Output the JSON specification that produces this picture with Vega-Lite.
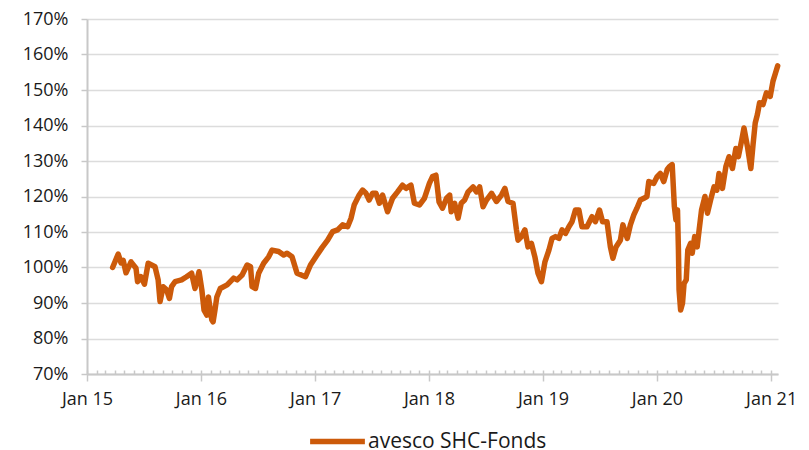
{
  "$schema": "https://vega.github.io/schema/vega-lite/v6.json",
  "width": 691,
  "height": 355,
  "autosize": {"type": "none"},
  "padding": {"left": 87, "top": 19, "right": 31, "bottom": 76},
  "background": "white",
  "config": {
    "view": {"stroke": null},
    "font": "Open Sans",
    "axis": {"labelFont": "Open Sans", "labelColor": "#1a1a1a", "domainColor": "#c8c8c8", "tickColor": "#c8c8c8", "gridColor": "#dcdcdc"},
    "axisY": {"title": null, "values": [70, 80, 90, 100, 110, 120, 130, 140, 150, 160, 170],
      "labelExpr": "datum.value + '%'", "labelFontSize": 18, "labelPadding": 13,
      "tickSize": 6, "tickWidth": 1.5, "domainWidth": 2, "gridWidth": 1.5, "grid": true}
  },
  "data": {"values": [
    {"d":"2015-03-24","v":100},{"d":"2015-04-11","v":103.8},{"d":"2015-04-20","v":101.3},{"d":"2015-04-27","v":102},
    {"d":"2015-05-06","v":98.5},{"d":"2015-05-22","v":101.6},{"d":"2015-06-07","v":99.8},{"d":"2015-06-12","v":96},
    {"d":"2015-06-23","v":97.4},{"d":"2015-07-04","v":95.3},{"d":"2015-07-16","v":101.2},{"d":"2015-07-27","v":100.7},
    {"d":"2015-08-07","v":100.2},{"d":"2015-08-17","v":96.5},{"d":"2015-08-23","v":90.4},{"d":"2015-09-02","v":94.6},
    {"d":"2015-09-13","v":93.7},{"d":"2015-09-22","v":91.3},{"d":"2015-09-29","v":94.6},{"d":"2015-10-10","v":96},
    {"d":"2015-10-31","v":96.5},{"d":"2015-11-16","v":97.4},{"d":"2015-12-02","v":98.4},{"d":"2015-12-13","v":94.1},
    {"d":"2015-12-26","v":98.8},
    {"d":"2016-01-04","v":93.7},{"d":"2016-01-11","v":88},{"d":"2016-01-20","v":86.6},{"d":"2016-01-25","v":91.7},
    {"d":"2016-02-05","v":85.2},{"d":"2016-02-09","v":84.7},{"d":"2016-02-15","v":88},{"d":"2016-02-21","v":91.7},
    {"d":"2016-03-03","v":94.1},{"d":"2016-03-25","v":95.1},{"d":"2016-04-15","v":97},{"d":"2016-04-26","v":96.5},
    {"d":"2016-05-12","v":97.9},{"d":"2016-05-28","v":100.7},{"d":"2016-06-08","v":100.2},{"d":"2016-06-13","v":94.6},
    {"d":"2016-06-24","v":94.1},{"d":"2016-07-04","v":98.4},{"d":"2016-07-20","v":101.2},{"d":"2016-08-05","v":103},
    {"d":"2016-08-16","v":104.9},{"d":"2016-09-06","v":104.5},{"d":"2016-09-22","v":103.5},{"d":"2016-10-03","v":104},
    {"d":"2016-10-19","v":103},{"d":"2016-11-04","v":98.4},{"d":"2016-12-01","v":97.4},{"d":"2016-12-17","v":100.7},
    {"d":"2017-01-07","v":103.5},{"d":"2017-01-23","v":105.6},{"d":"2017-02-10","v":107.7},{"d":"2017-02-26","v":110.1},
    {"d":"2017-03-14","v":110.6},{"d":"2017-03-30","v":112},{"d":"2017-04-15","v":111.5},{"d":"2017-04-26","v":113.9},
    {"d":"2017-05-06","v":117.6},{"d":"2017-05-22","v":120.4},{"d":"2017-06-02","v":121.8},{"d":"2017-06-13","v":120.9},
    {"d":"2017-06-23","v":119},{"d":"2017-07-04","v":120.9},{"d":"2017-07-15","v":120.9},{"d":"2017-07-26","v":118.1},
    {"d":"2017-08-05","v":120.4},{"d":"2017-08-21","v":115.7},{"d":"2017-09-06","v":119.5},{"d":"2017-09-22","v":121.3},
    {"d":"2017-10-08","v":123.2},{"d":"2017-10-19","v":122.3},{"d":"2017-11-04","v":123.2},{"d":"2017-11-15","v":118.1},
    {"d":"2017-12-01","v":117.6},{"d":"2017-12-17","v":119.5},
    {"d":"2018-01-02","v":123.7},{"d":"2018-01-12","v":125.6},{"d":"2018-01-23","v":126},{"d":"2018-02-02","v":118.5},
    {"d":"2018-02-13","v":116.7},{"d":"2018-02-26","v":119.5},{"d":"2018-03-08","v":120.4},{"d":"2018-03-13","v":115.7},
    {"d":"2018-03-24","v":118.1},{"d":"2018-04-04","v":113.9},{"d":"2018-04-14","v":118.1},{"d":"2018-04-25","v":119},
    {"d":"2018-05-06","v":121.3},{"d":"2018-05-22","v":122.7},{"d":"2018-06-02","v":121.3},{"d":"2018-06-12","v":122.7},
    {"d":"2018-06-23","v":117.1},{"d":"2018-07-04","v":119},{"d":"2018-07-20","v":120.9},{"d":"2018-08-05","v":118.6},
    {"d":"2018-08-21","v":120.4},{"d":"2018-09-01","v":122.3},{"d":"2018-09-11","v":118.6},{"d":"2018-09-27","v":118.1},
    {"d":"2018-10-08","v":110.6},{"d":"2018-10-13","v":107.7},{"d":"2018-10-24","v":108.7},{"d":"2018-11-04","v":110.6},
    {"d":"2018-11-14","v":105.8},{"d":"2018-11-25","v":106.8},{"d":"2018-12-06","v":103},{"d":"2018-12-16","v":98.4},
    {"d":"2018-12-27","v":96},
    {"d":"2019-01-07","v":101.5},{"d":"2019-01-20","v":104.9},{"d":"2019-01-30","v":108.2},{"d":"2019-02-10","v":108.7},
    {"d":"2019-02-21","v":108.2},{"d":"2019-03-03","v":110.6},{"d":"2019-03-14","v":109.6},{"d":"2019-03-25","v":111.5},
    {"d":"2019-04-04","v":112.9},{"d":"2019-04-15","v":116.2},{"d":"2019-04-26","v":116.2},{"d":"2019-05-06","v":111.5},
    {"d":"2019-05-22","v":111.5},{"d":"2019-06-07","v":114.3},{"d":"2019-06-18","v":112.9},{"d":"2019-07-01","v":116.2},
    {"d":"2019-07-11","v":112.9},{"d":"2019-07-25","v":112.9},{"d":"2019-08-05","v":105.8},{"d":"2019-08-13","v":102.6},
    {"d":"2019-08-23","v":105.8},{"d":"2019-09-06","v":107.7},{"d":"2019-09-14","v":112},{"d":"2019-09-28","v":108.2},
    {"d":"2019-10-08","v":112},{"d":"2019-10-19","v":114.8},{"d":"2019-10-29","v":116.7},{"d":"2019-11-09","v":119},
    {"d":"2019-11-20","v":119.5},{"d":"2019-11-30","v":120},{"d":"2019-12-06","v":124.2},{"d":"2019-12-22","v":123.7},
    {"d":"2020-01-02","v":125.6},{"d":"2020-01-12","v":126.5},{"d":"2020-01-23","v":124.2},{"d":"2020-02-03","v":127.6},
    {"d":"2020-02-10","v":128.4},{"d":"2020-02-19","v":129},{"d":"2020-02-26","v":117.1},{"d":"2020-03-02","v":113.4},
    {"d":"2020-03-07","v":116.2},{"d":"2020-03-10","v":104.9},{"d":"2020-03-12","v":93.7},{"d":"2020-03-17","v":88},
    {"d":"2020-03-23","v":89.9},{"d":"2020-03-28","v":95.5},{"d":"2020-04-04","v":96.5},{"d":"2020-04-09","v":104.9},
    {"d":"2020-04-18","v":106.8},{"d":"2020-04-23","v":104},{"d":"2020-05-01","v":108.7},{"d":"2020-05-09","v":105.8},
    {"d":"2020-05-14","v":109.6},{"d":"2020-05-23","v":116.2},{"d":"2020-06-03","v":120},{"d":"2020-06-11","v":115.3},
    {"d":"2020-06-21","v":119},{"d":"2020-07-02","v":122.7},{"d":"2020-07-11","v":121.8},{"d":"2020-07-18","v":126.5},
    {"d":"2020-07-29","v":122.3},{"d":"2020-08-09","v":128.4},{"d":"2020-08-19","v":131.2},{"d":"2020-08-30","v":127.9},
    {"d":"2020-09-10","v":133.5},{"d":"2020-09-18","v":131.2},{"d":"2020-09-29","v":136},{"d":"2020-10-06","v":139.3},
    {"d":"2020-10-17","v":134.1},{"d":"2020-10-28","v":127.9},{"d":"2020-11-04","v":134.6},{"d":"2020-11-11","v":140.7},
    {"d":"2020-11-18","v":143.1},{"d":"2020-11-25","v":146.4},{"d":"2020-12-06","v":145.9},{"d":"2020-12-17","v":149.2},
    {"d":"2020-12-29","v":148.2},
    {"d":"2021-01-07","v":152.5},{"d":"2021-01-15","v":154.8},{"d":"2021-01-22","v":156.8}
  ]},
  "layer": [
    {
      "mark": {"type": "line", "opacity": 0},
      "encoding": {
        "x": {"field": "d", "type": "temporal",
          "scale": {"type": "utc", "domain": [{"year": 2015, "month": 1, "date": 1, "utc": true}, {"year": 2021, "month": 1, "date": 23, "utc": true}]},
          "axis": {"orient": "bottom", "title": null, "grid": false, "labels": false, "domain": false,
            "tickCount": {"interval": "month", "step": 1}, "tickSize": -4, "tickWidth": 1.5, "tickColor": "#c8c8c8"}},
        "y": {"field": "v", "type": "quantitative", "scale": {"domain": [70, 170], "nice": false, "zero": false}}
      }
    },
    {
      "mark": {"type": "line", "strokeWidth": 5.5, "strokeCap": "round", "strokeJoin": "round"},
      "encoding": {
        "x": {"field": "d", "type": "temporal",
          "axis": {"orient": "bottom", "title": null, "grid": false, "domainWidth": 2, "domainColor": "#c8c8c8",
            "tickCount": {"interval": "year", "step": 1}, "tickSize": 7, "tickWidth": 1.5, "tickColor": "#c8c8c8",
            "labelExpr": "'Jan ' + utcFormat(datum.value, '%y')", "labelFontSize": 18, "labelPadding": 9, "labelFlush": false}},
        "y": {"field": "v", "type": "quantitative"},
        "color": {"datum": "avesco SHC-Fonds", "type": "nominal", "scale": {"range": ["#cc5a0a"]},
          "legend": {"orient": "none", "legendX": 220, "legendY": 392, "title": null, "direction": "horizontal",
            "symbolType": "stroke", "symbolSize": 3000, "symbolStrokeWidth": 5.5,
            "labelFontSize": 21, "labelFont": "Open Sans", "labelColor": "#1a1a1a", "labelOffset": 0, "labelLimit": 0}}
      }
    }
  ],
  "resolve": {"axis": {"x": "independent"}}
}
